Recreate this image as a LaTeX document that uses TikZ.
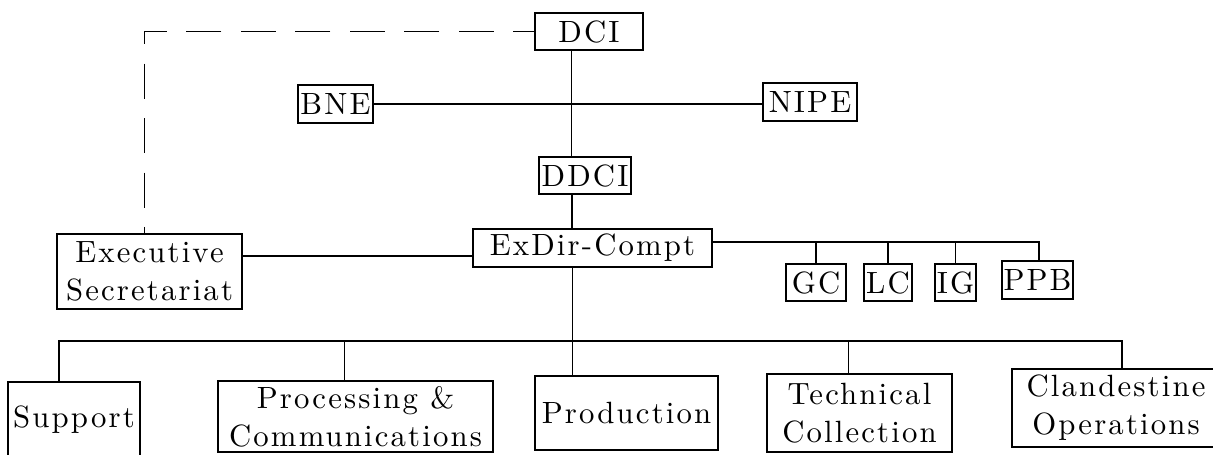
\documentclass[tikz,border=0pt]{standalone}
\usepackage{fontspec}
\setmainfont{lmroman10-regular}[Extension=.otf, LetterSpace=7]
\usepackage{tikz}
\usetikzlibrary{positioning,calc}

\tikzset{
  unit/.style={draw, line width=0.9pt, inner sep=1pt, align=center,
    font=\fontsize{17.5}{21.5}\selectfont},
  link/.style={line width=0.9pt},
}

\begin{document}
\begin{tikzpicture}
  % page frame of the scan
  \useasboundingbox (0,0) rectangle (24.26,-9.08);
  \clip (0,0) rectangle (24.26,-9.08);
  % top of the chart
  \node[unit, minimum width=2.16cm, minimum height=0.74cm] (dci) at (11.78,-0.63) {DCI};
  \node[unit, minimum width=1.5cm, minimum height=0.76cm] (bne) at (6.71,-2.08) {BNE};
  \node[unit, minimum width=1.88cm, minimum height=0.76cm] (nipe) at (16.2,-2.04) {NIPE};
  \node[unit, minimum width=1.84cm, minimum height=0.74cm] (ddci) at (11.7,-3.51) {DDCI};
  \node[unit, minimum width=4.78cm, minimum height=0.76cm] (exdir) at (11.85,-4.96) {ExDir-Compt};
  \node[unit, minimum width=3.7cm, minimum height=1.5cm] (exec) at (2.99,-5.43) {Executive\\Secretariat};
  % staff offices
  \node[unit, minimum width=1.2cm, minimum height=0.74cm] (gc) at (16.32,-5.65) {GC};
  \node[unit, minimum width=0.96cm, minimum height=0.74cm] (lc) at (17.76,-5.65) {LC};
  \node[unit, minimum width=0.74cm, minimum height=0.74cm] (ig) at (19.11,-5.65) {IG};
  \node[unit, minimum width=1.38cm, minimum height=0.76cm] (ppb) at (20.75,-5.6) {PPB};
  % directorates
  \node[unit, minimum width=2.64cm, minimum height=1.52cm] (support) at (1.48,-8.4) {Support};
  \node[unit, minimum width=5.5cm, minimum height=1.42cm] (processing) at (7.11,-8.33) {Processing \&\\Communications};
  \node[unit, minimum width=3.66cm, minimum height=1.48cm] (production) at (12.53,-8.26) {Production};
  \node[unit, minimum width=3.7cm, minimum height=1.56cm] (technical) at (17.19,-8.26) {Technical\\Collection};
  \node[unit, minimum width=4.16cm, minimum height=1.56cm] (clandestine) at (22.32,-8.16) {Clandestine\\Operations};
  \coordinate (bus) at (0,-6.82);
  \coordinate (staffbus) at ([yshift=1.2mm]exdir.east);

  % lines of authority
  \draw[link, dash pattern=on 20pt off 11pt, dash phase=8pt] (dci.west) -| ([xshift=-1mm]exec.north);
  \draw[link] ([xshift=-3.5mm]dci.south) -- ([xshift=-3.5mm]dci.south |- ddci.north);
  \draw[link] (bne.east) -- (bne.east -| nipe.west);
  \draw[link] ([xshift=-2.6mm]ddci.south) -- ([xshift=-2.6mm]ddci.south |- exdir.north);
  \draw[link] ([yshift=-1.6mm]exdir.west) -- ([yshift=-1.6mm]exdir.west -| exec.east);
  \draw[link] (staffbus) -| ([xshift=0.3mm]ppb.north);
  \foreach \n in {gc,lc,ig}
    \draw[link] (\n.north) -- (\n.north |- staffbus);
  \draw[link] ([xshift=-4mm]exdir.south) -- ([xshift=-4mm]exdir.south |- production.north);
  \draw[link] ([xshift=-3mm]support.north) |- ([xshift=1.2mm]clandestine.north |- bus) -- ([xshift=1.2mm]clandestine.north);
  \foreach \n in {processing,technical}
    \draw[link] ([xshift=-2.2mm]\n.north) -- ([xshift=-2.2mm]\n.north |- bus);
\end{tikzpicture}
\end{document}
